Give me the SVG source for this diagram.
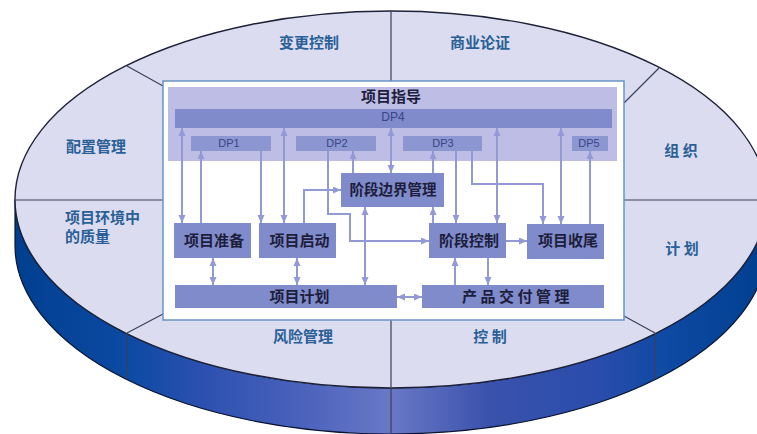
<svg xmlns="http://www.w3.org/2000/svg" width="757" height="434" viewBox="0 0 757 434">
<style>
text{font-family:"Noto Sans CJK SC","Liberation Sans",sans-serif;font-weight:700;text-anchor:middle}
.seg{fill:none;stroke:#3c4058;stroke-width:1.2}
.n{font-size:15px;fill:#2a6096}
.t{font-size:15px;fill:#1d1d3c}
.dp{font-family:"Liberation Sans","Noto Sans CJK SC",sans-serif;font-weight:400;font-size:11px;fill:#3a4486}
.box{fill:#7f8bcb}
.sub{fill:#8c96d0}
.a,.b{stroke:#9299d4;stroke-width:2;fill:none;marker-end:url(#h)}
.b{marker-start:url(#hs)}
</style>
<defs>
<linearGradient id="side" gradientUnits="userSpaceOnUse" x1="15" x2="767" y1="0" y2="0">
<stop offset="0" stop-color="#003f8f"/><stop offset="0.15" stop-color="#0c4aa3"/><stop offset="0.25" stop-color="#2c50b0"/><stop offset="0.38" stop-color="#4a62bc"/><stop offset="0.5" stop-color="#6a78c6"/><stop offset="0.63" stop-color="#3a52ac"/><stop offset="0.78" stop-color="#2a4cac"/><stop offset="0.86" stop-color="#0f4aa4"/><stop offset="1" stop-color="#003f8f"/>
</linearGradient>
<marker id="h" markerUnits="userSpaceOnUse" markerWidth="8" markerHeight="8" refX="8" refY="3.5" orient="auto"><path d="M0 0L8 3.5L0 7Z" fill="#9299d4"/></marker>
<marker id="hs" markerUnits="userSpaceOnUse" markerWidth="8" markerHeight="8" refX="0" refY="3.5" orient="auto"><path d="M8 0L0 3.5L8 7Z" fill="#9299d4"/></marker>
</defs>
<g id="disc">
<path d="M15 199.5A376 188.5 0 0 0 767 199.5V245.5A376 188.5 0 0 1 15 245.5Z" fill="url(#side)" stroke="#0a1430" stroke-width="1.2"/>
<ellipse cx="391" cy="199.5" rx="376" ry="188.5" fill="#dcdcf0" stroke="#1e2238" stroke-width="1.4"/>
<path class="seg" d="M391 11V81M391 320V434M127 66L163 86M127 333L163 314M127 333V379M655 333L624 316M655 333V379M624 103L659 68M624 200H757M163 200H15"/>
</g>
<g id="panel"><rect x="163" y="81" width="461" height="239" fill="#fff" stroke="#6a93c4" stroke-width="1.5"/><rect x="168" y="87" width="449" height="74" fill="#bdbde6"/></g>
<g id="segments">
<text class="n" x="309" y="48">变更控制</text>
<text class="n" x="480" y="48">商业论证</text>
<text class="n" x="96" y="152">配置管理</text>
<text class="n" x="681" y="156">组 织</text>
<text class="n" x="682" y="254">计 划</text>
<text class="n" x="65" y="223" style="text-anchor:start">项目环境中</text>
<text class="n" x="65" y="242" style="text-anchor:start">的质量</text>
<text class="n" x="303" y="342">风险管理</text>
<text class="n" x="490" y="342">控 制</text>
</g>
<g id="connectors">
<path class="b" d="M182 128V223"/>
<path class="a" d="M201 223V151"/>
<path class="a" d="M261 151V223"/>
<path class="b" d="M284 128V223"/>
<path class="a" d="M304 223V190H341"/>
<path class="a" d="M328 151V214H350V241H429"/>
<path class="a" d="M353 173V151"/>
<path class="b" d="M391 128V173"/>
<path class="b" d="M365 207V285"/>
<path class="a" d="M433 173V151"/>
<path class="a" d="M433 223V207"/>
<path class="a" d="M456 151V223"/>
<path class="b" d="M497 128V223"/>
<path class="a" d="M472 151V184H543V224"/>
<path class="b" d="M561 128V224"/>
<path class="a" d="M590 224V151"/>
<path class="a" d="M506 241H527"/>
<path class="b" d="M213 258V285"/>
<path class="b" d="M297 258V285"/>
<path class="b" d="M397 297H422"/>
<path class="a" d="M455 285V258"/>
<path class="a" d="M488 258V285"/>
</g>
<g id="dp4"><rect x="175" y="109" width="437" height="19" class="box"/><text class="dp" style="font-size:12px" x="393" y="121">DP4</text></g>
<g id="dp1"><rect x="191" y="136" width="80" height="15" class="sub"/><text class="dp" x="229" y="147">DP1</text></g>
<g id="dp2"><rect x="296" y="136" width="80" height="15" class="sub"/><text class="dp" x="337" y="147">DP2</text></g>
<g id="dp3"><rect x="403" y="136" width="79" height="15" class="sub"/><text class="dp" x="443" y="147">DP3</text></g>
<g id="dp5"><rect x="572" y="136" width="36" height="15" class="sub"/><text class="dp" x="589" y="147">DP5</text></g>
<g id="title"><text class="t" x="391" y="102">项目指导</text></g>
<g id="stage-boundary"><rect x="341" y="173" width="103" height="34" class="box"/><text class="t" x="393" y="195" style="font-size:14.5px">阶段边界管理</text></g>
<g id="start-up"><rect x="174" y="223" width="77" height="35" class="box"/><text class="t" x="214" y="246">项目准备</text></g>
<g id="initiate"><rect x="259" y="223" width="77" height="35" class="box"/><text class="t" x="299.500" y="246">项目启动</text></g>
<g id="stage-control"><rect x="429" y="223" width="77" height="35" class="box"/><text class="t" x="469" y="246">阶段控制</text></g>
<g id="close"><rect x="527" y="224" width="77" height="35" class="box"/><text class="t" x="568" y="246">项目收尾</text></g>
<g id="plan"><rect x="175" y="285" width="222" height="23" class="box"/><text class="t" x="299.500" y="302">项目计划</text></g>
<g id="delivery"><rect x="422" y="285" width="182" height="23" class="box"/><text class="t" x="517.500" y="302" letter-spacing="3.500">产品交付管理</text></g>
</svg>
